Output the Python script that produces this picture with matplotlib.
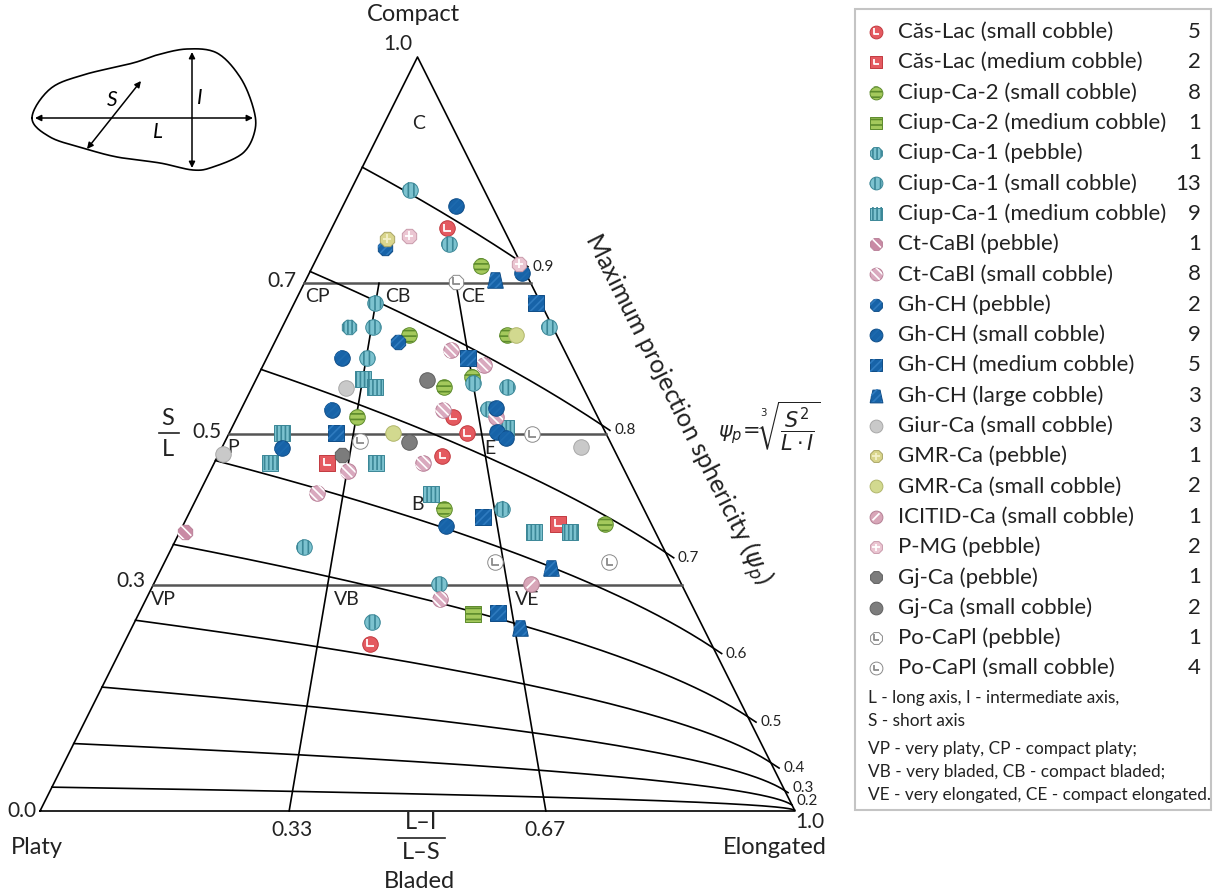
import numpy as np
import matplotlib
matplotlib.use("Agg")
import matplotlib.pyplot as plt
from matplotlib.path import Path
from matplotlib.patches import Rectangle

# S/L and (L-I)/(L-S) of each clast
cas_small_sl = [0.773, 0.523, 0.501, 0.471, 0.222]
cas_small_li = [0.671, 0.598, 0.631, 0.562, 0.419]
cas_medium_sl = [0.462, 0.381]
cas_medium_li = [0.277, 0.800]
ciup2_small_sl = [0.723, 0.631, 0.631, 0.576, 0.562, 0.523, 0.401, 0.381]
ciup2_small_li = [0.803, 0.469, 0.821, 0.670, 0.580, 0.332, 0.558, 0.901]
ciup2_medium_sl = [0.261]
ciup2_medium_li = [0.600]
ciup1_pebble_sl = [0.642]
ciup1_pebble_li = [0.247]
ciup1_small_sl = [0.824, 0.752, 0.674, 0.642, 0.601, 0.642, 0.568, 0.562, 0.533, 0.401, 0.350, 0.301, 0.251]
ciup1_small_li = [0.444, 0.668, 0.327, 0.335, 0.332, 0.986, 0.670, 0.771, 0.700, 0.687, 0.269, 0.541, 0.420]
ciup1_medium_sl = [0.573, 0.562, 0.501, 0.462, 0.462, 0.508, 0.420, 0.370, 0.370]
ciup1_medium_li = [0.331, 0.371, 0.140, 0.137, 0.398, 0.738, 0.531, 0.745, 0.821]
ctcabl_pebble_sl = [0.370]
ctcabl_pebble_li = [0.011]
ctcabl_small_sl = [0.611, 0.592, 0.532, 0.523, 0.451, 0.422, 0.462, 0.281]
ctcabl_small_li = [0.614, 0.716, 0.572, 0.718, 0.332, 0.270, 0.513, 0.541]
ghch_pebble_sl = [0.747, 0.622]
ghch_pebble_li = [0.330, 0.432]
ghch_small_sl = [0.802, 0.714, 0.601, 0.532, 0.481, 0.535, 0.503, 0.495, 0.378]
ghch_small_li = [0.758, 0.983, 0.250, 0.258, 0.154, 0.723, 0.712, 0.732, 0.561]
ghch_medium_sl = [0.674, 0.601, 0.501, 0.390, 0.263]
ghch_medium_li = [0.981, 0.668, 0.283, 0.642, 0.645]
ghch_large_sl = [0.704, 0.322, 0.243]
ghch_large_li = [0.847, 0.761, 0.679]
giur_small_sl = [0.561, 0.474, 0.483]
giur_small_li = [0.284, 0.011, 0.919]
gmr_pebble_sl = [0.759]
gmr_pebble_li = [0.333]
gmr_small_sl = [0.631, 0.501]
gmr_small_li = [0.854, 0.435]
icitid_small_sl = [0.301]
icitid_small_li = [0.715]
pmg_pebble_sl = [0.763, 0.726]
pmg_pebble_li = [0.452, 0.990]
gj_pebble_sl = [0.472]
gj_pebble_li = [0.310]
gj_small_sl = [0.572, 0.489]
gj_small_li = [0.529, 0.478]
po_pebble_sl = [0.702]
po_pebble_li = [0.671]
po_small_sl = [0.491, 0.500, 0.330, 0.330]
po_small_li = [0.350, 0.803, 0.653, 0.879]

psi_levels = [0.9, 0.8, 0.7, 0.6, 0.5, 0.4, 0.3, 0.2, 0.1]
psi_labels = ["0.9", "0.8", "0.7", "0.6", "0.5", "0.4", "0.3", "0.2", ""]
sl_bounds = [0.7, 0.5, 0.3]
li_bounds = [0.33, 0.67]

W, H, DPI = 1214, 896, 100

plt.rcParams["font.family"] = ["Lato", "DejaVu Sans"]
plt.rcParams["hatch.linewidth"] = 1.2
plt.rcParams["mathtext.fontset"] = "dejavusans"

L_GLYPH = Path([(-0.3, 0.5), (-0.3, -0.3), (0.45, -0.3)], [Path.MOVETO, Path.LINETO, Path.LINETO])
SLASH_GLYPH = Path([(-0.5, -0.5), (0.5, 0.5)], [Path.MOVETO, Path.LINETO])
CROSS_GLYPH = Path([(-0.5, 0), (0.5, 0), (0, -0.5), (0, 0.5)],
                   [Path.MOVETO, Path.LINETO, Path.MOVETO, Path.LINETO])
TRAPEZOID = np.array([(-0.5, -0.5), (0.5, -0.5), (0.28, 0.5), (-0.28, 0.5), (-0.5, -0.5)])

RED, RED_D = "#e45a60", "#c23a40"
GREEN, GREEN_D = "#a4c95c", "#5d8b2c"
TEAL, TEAL_D = "#7cc2cf", "#3b8797"
PINK, PINK_D = "#d9a9be", "#b98098"
BLUE, BLUE_D = "#1763a8", "#0f4c86"

STYLES = {
    "cas_small": dict(marker="o", face=RED, edge=RED_D, glyph=L_GLYPH, gcol="white"),
    "cas_medium": dict(marker="s", face=RED, edge=RED_D, glyph=L_GLYPH, gcol="white"),
    "ciup2_small": dict(marker="o", face=GREEN, edge=GREEN_D, hatch="---", hcol=GREEN_D),
    "ciup2_medium": dict(marker="s", face=GREEN, edge=GREEN_D, hatch="---", hcol=GREEN_D),
    "ciup1_pebble": dict(marker="8", face=TEAL, edge=TEAL_D, hatch="||||", hcol=TEAL_D),
    "ciup1_small": dict(marker="o", face=TEAL, edge=TEAL_D, hatch="|||", hcol=TEAL_D),
    "ciup1_medium": dict(marker="s", face=TEAL, edge=TEAL_D, hatch="||||", hcol=TEAL_D),
    "ctcabl_pebble": dict(marker="8", face="#c98aa4", edge=PINK_D, hatch="\\\\\\", hcol="white"),
    "ctcabl_small": dict(marker="o", face=PINK, edge=PINK_D, hatch="\\\\\\\\", hcol="white"),
    "ghch_pebble": dict(marker="8", face=BLUE, edge=BLUE_D, hatch="////", hcol="#2f7bbf"),
    "ghch_small": dict(marker="o", face=BLUE, edge=BLUE_D, hatch="////", hcol="#1d6aae"),
    "ghch_medium": dict(marker="s", face=BLUE, edge=BLUE_D, hatch="////", hcol="#2f7bbf"),
    "ghch_large": dict(marker=TRAPEZOID, face=BLUE, edge=BLUE_D, hatch="////", hcol="#2f7bbf"),
    "giur_small": dict(marker="o", face="#c9c9c9", edge="#a8a8a8"),
    "gmr_pebble": dict(marker="8", face="#d9d58c", edge="#a9a565", glyph=CROSS_GLYPH, gcol="#f3f0c8"),
    "gmr_small": dict(marker="o", face="#d2d98f", edge="#b1b66c"),
    "icitid_small": dict(marker="o", face="#d8a6b8", edge="#b58195", glyph=SLASH_GLYPH, gcol="white"),
    "pmg_pebble": dict(marker="8", face="#ebc6d2", edge="#c99aab", glyph=CROSS_GLYPH, gcol="white"),
    "gj_pebble": dict(marker="8", face="#7c7c7c", edge="#5e5e5e"),
    "gj_small": dict(marker="o", face="#7d7d7d", edge="#606060"),
    "po_pebble": dict(marker="8", face="white", edge="#8a8a8a", glyph=L_GLYPH, gcol="#8a8a8a"),
    "po_small": dict(marker="o", face="white", edge="#8a8a8a", glyph=L_GLYPH, gcol="#8a8a8a"),
}

GROUPS = [
    ("Căs-Lac (small cobble)", 5, cas_small_sl, cas_small_li, "cas_small"),
    ("Căs-Lac (medium cobble)", 2, cas_medium_sl, cas_medium_li, "cas_medium"),
    ("Ciup-Ca-2 (small cobble)", 8, ciup2_small_sl, ciup2_small_li, "ciup2_small"),
    ("Ciup-Ca-2 (medium cobble)", 1, ciup2_medium_sl, ciup2_medium_li, "ciup2_medium"),
    ("Ciup-Ca-1 (pebble)", 1, ciup1_pebble_sl, ciup1_pebble_li, "ciup1_pebble"),
    ("Ciup-Ca-1 (small cobble)", 13, ciup1_small_sl, ciup1_small_li, "ciup1_small"),
    ("Ciup-Ca-1 (medium cobble)", 9, ciup1_medium_sl, ciup1_medium_li, "ciup1_medium"),
    ("Ct-CaBl (pebble)", 1, ctcabl_pebble_sl, ctcabl_pebble_li, "ctcabl_pebble"),
    ("Ct-CaBl (small cobble)", 8, ctcabl_small_sl, ctcabl_small_li, "ctcabl_small"),
    ("Gh-CH (pebble)", 2, ghch_pebble_sl, ghch_pebble_li, "ghch_pebble"),
    ("Gh-CH (small cobble)", 9, ghch_small_sl, ghch_small_li, "ghch_small"),
    ("Gh-CH (medium cobble)", 5, ghch_medium_sl, ghch_medium_li, "ghch_medium"),
    ("Gh-CH (large cobble)", 3, ghch_large_sl, ghch_large_li, "ghch_large"),
    ("Giur-Ca (small cobble)", 3, giur_small_sl, giur_small_li, "giur_small"),
    ("GMR-Ca (pebble)", 1, gmr_pebble_sl, gmr_pebble_li, "gmr_pebble"),
    ("GMR-Ca (small cobble)", 2, gmr_small_sl, gmr_small_li, "gmr_small"),
    ("ICITID-Ca (small cobble)", 1, icitid_small_sl, icitid_small_li, "icitid_small"),
    ("P-MG (pebble)", 2, pmg_pebble_sl, pmg_pebble_li, "pmg_pebble"),
    ("Gj-Ca (pebble)", 1, gj_pebble_sl, gj_pebble_li, "gj_pebble"),
    ("Gj-Ca (small cobble)", 2, gj_small_sl, gj_small_li, "gj_small"),
    ("Po-CaPl (pebble)", 1, po_pebble_sl, po_pebble_li, "po_pebble"),
    ("Po-CaPl (small cobble)", 4, po_small_sl, po_small_li, "po_small"),
]


def ternary_xy(sl, li):
    sl = np.asarray(sl, float)
    li = np.asarray(li, float)
    return li * (1 - sl) + 0.5 * sl, sl


def draw_marks(axis, x, y, st, size):
    kw = dict(zorder=6, clip_on=False)
    axis.scatter(x, y, s=size, marker=st["marker"], facecolors=st["face"],
                 edgecolors=st["edge"], linewidths=0.7, **kw)
    if st.get("hatch"):
        axis.scatter(x, y, s=size, marker=st["marker"], facecolors="none",
                     edgecolors=st["hcol"], linewidths=0, hatch=st["hatch"], **kw)
    if st.get("glyph") is not None:
        axis.scatter(x, y, s=size * 0.3, marker=st["glyph"], facecolors="none",
                     edgecolors=st["gcol"], linewidths=1.3, **kw)


def smooth_closed(pts, n=16):
    pts = np.asarray(pts, float)
    m = len(pts)
    out = []
    for i in range(m):
        p0, p1, p2, p3 = pts[i - 1], pts[i], pts[(i + 1) % m], pts[(i + 2) % m]
        for u in np.linspace(0, 1, n, endpoint=False):
            out.append(0.5 * (2 * p1 + (p2 - p0) * u + (2 * p0 - 5 * p1 + 4 * p2 - p3) * u ** 2
                              + (3 * p1 - p0 - 3 * p2 + p3) * u ** 3))
    out.append(out[0])
    return np.array(out)


fig = plt.figure(figsize=(W / DPI, H / DPI), dpi=DPI)

# pixel-space overlay for the legend and the clast sketch
ov = fig.add_axes([0, 0, 1, 1])
ov.set_xlim(0, W)
ov.set_ylim(H, 0)
ov.axis("off")

ax = fig.add_axes([40 / W, (H - 811) / H, 755 / W, 754 / H])
ax.set_xlim(0, 1)
ax.set_ylim(0, 1)
ax.axis("off")

INK = "#222222"
line_kw = dict(color="black", lw=1.2, clip_on=False, zorder=2)
ax.plot([0, 1, 0.5, 0], [0, 0, 1, 0], **line_kw)

for sl in sl_bounds:
    ax.plot([0.5 * sl, 1 - 0.5 * sl], [sl, sl], color="#555555", lw=1.8, clip_on=False, zorder=2)

for li in li_bounds:
    bx, by = ternary_xy([0, 0.7], [li, li])
    ax.plot(bx, by, **line_kw)

for psi, lab in zip(psi_levels, psi_labels):
    p3 = psi ** 3
    t = np.linspace(0, 1, 300)
    s = (p3 * t + np.sqrt((p3 * t) ** 2 + 4 * p3 * (1 - t))) / 2
    cx, cy = ternary_xy(s, t)
    if lab:
        ext = 0.013 if psi >= 0.4 else (0.005 if psi >= 0.3 else 0.0)
        d = np.array([cx[-1] - cx[-2], cy[-1] - cy[-2]])
        d = d / np.hypot(*d)
        ex, ey = cx[-1] + ext * d[0], cy[-1] + ext * d[1]
        cx = np.append(cx, ex)
        cy = np.append(cy, ey)
        off = (3, 0) if psi >= 0.4 else (3, 3)
        ax.annotate(lab, (ex, ey), xytext=off, textcoords="offset points",
                    ha="left", va="center", fontsize=11, color=INK)
    ax.plot(cx, cy, **line_kw)

for label, count, sl, li, key in GROUPS:
    px, py = ternary_xy(sl, li)
    draw_marks(ax, px, py, STYLES[key], 125)

# zone labels
zones = [("C", 0.501, 0.912), ("CP", 0.368, 0.683), ("CB", 0.474, 0.683), ("CE", 0.574, 0.683),
         ("P", 0.256, 0.482), ("B", 0.500, 0.406), ("E", 0.596, 0.481),
         ("VP", 0.163, 0.280), ("VB", 0.407, 0.280), ("VE", 0.645, 0.280)]
for name, zx, zy in zones:
    ax.text(zx, zy, name, ha="center", va="center", fontsize=14, color=INK)

tk = dict(fontsize=15, color=INK, va="center")
ax.text(0.474, 1.004, "1.0", ha="center", **{**tk, "va": "bottom"})
ax.text(0.340, 0.703, "0.7", ha="right", **tk)
ax.text(0.240, 0.503, "0.5", ha="right", **tk)
ax.text(0.140, 0.305, "0.3", ha="right", **tk)
ax.text(-0.004, 0.0, "0.0", ha="right", **tk)
ax.text(0.334, -0.025, "0.33", ha="center", **tk)
ax.text(0.669, -0.025, "0.67", ha="center", **tk)
ax.text(1.020, -0.015, "1.0", ha="center", **tk)

big = dict(fontsize=17, color=INK, ha="center", va="center")
ax.text(0.494, 1.056, "Compact", **big)
ax.text(-0.004, -0.049, "Platy", **big)
ax.text(0.9735, -0.049, "Elongated", **big)
ax.text(0.503, -0.094, "Bladed", **big)

ax.text(0.5046, -0.0146, "L–I", **big)
ax.plot([0.474, 0.536], [-0.0358, -0.0358], color=INK, lw=1.2, clip_on=False)
ax.text(0.5046, -0.0557, "L–S", **big)

ax.text(0.1695, 0.521, "S", **big)
ax.plot([0.157, 0.184], [0.501, 0.501], color=INK, lw=1.2, clip_on=False)
ax.text(0.1695, 0.480, "L", **big)

ax.text(0.844, 0.532, r"Maximum projection sphericity ($\psi_p$)", rotation=-63.4,
        rotation_mode="anchor", ha="center", va="center", fontsize=18, color=INK)
ax.text(0.898, 0.510, r"$\psi_p\!=\!\sqrt[3]{\dfrac{S^2}{L\cdot I}}$", ha="left", va="center",
        fontsize=15, color=INK)

# clast sketch
blob = [(32, 118), (50, 89), (83, 75), (133, 63), (157, 55), (187, 49), (217, 53), (240, 77),
        (253, 107), (255, 130), (243, 153), (213, 167), (193, 170), (160, 163), (117, 157),
        (83, 148), (50, 137)]
bl = smooth_closed(blob)
ov.plot(bl[:, 0], bl[:, 1], color="black", lw=1.2)
arrow = dict(arrowstyle="<|-|>", color="black", lw=1.1, mutation_scale=9, shrinkA=0, shrinkB=0)
ov.annotate("", xy=(253, 118), xytext=(35, 118), arrowprops=arrow)
ov.annotate("", xy=(192, 52), xytext=(192, 168), arrowprops=arrow)
ov.annotate("", xy=(141, 81), xytext=(87, 149), arrowprops=arrow)
for lx, ly, lt in [(112, 100, "S"), (200, 98, "I"), (158, 132, "L")]:
    ov.text(lx, ly, lt, fontsize=15, style="italic", ha="center", va="center")

# legend
ov.add_patch(Rectangle((855, 9), 356, 801, fill=False, ec="#c4c4c4", lw=1.5))
for i, (label, count, sl, li, key) in enumerate(GROUPS):
    ry = 32 + 30.3 * i
    draw_marks(ov, [876], [ry], STYLES[key], 85)
    ov.text(898, ry, label, ha="left", va="center", fontsize=16, color=INK)
    ov.text(1201, ry, str(count), ha="right", va="center", fontsize=16, color=INK)

notes = [(698, "L - long axis, I - intermediate axis,"), (721, "S - short axis"),
         (749, "VP - very platy, CP - compact platy;"), (772, "VB - very bladed, CB - compact bladed;"),
         (795, "VE - very elongated, CE - compact elongated.")]
for ny, txt in notes:
    ov.text(868, ny, txt, ha="left", va="center", fontsize=12.4, color=INK)

fig.savefig("out.png", dpi=DPI)
